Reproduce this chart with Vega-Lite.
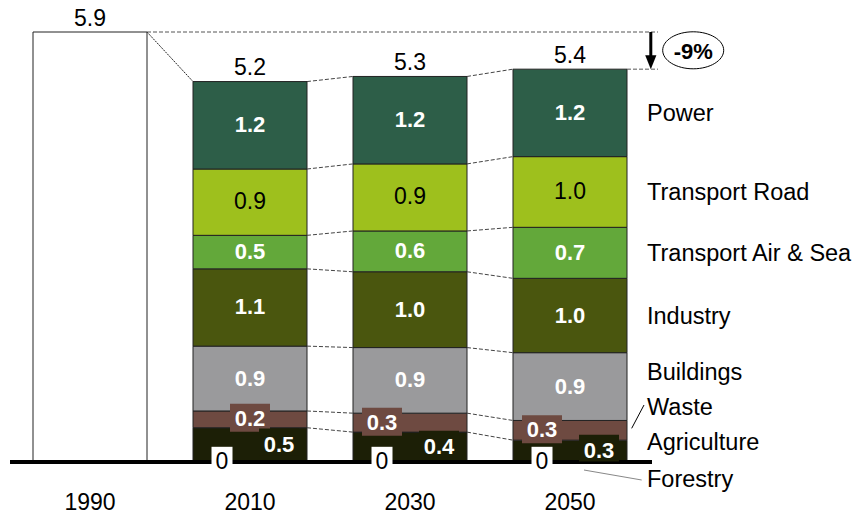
{
  "$schema": "https://vega.github.io/schema/vega-lite/v6.json",
  "width": 863,
  "height": 519,
  "padding": 0,
  "autosize": {"type": "fit", "contains": "padding"},
  "config": {"view": {"stroke": null}, "font": "Liberation Sans", "axis": {"disable": true}},
  "data": {
    "values": [
      {"year": 1990, "sector": "Total", "order": 0, "value": 5.9},
      {"year": 2010, "sector": "Forestry", "order": 1, "value": 0},
      {"year": 2010, "sector": "Agriculture", "order": 2, "value": 0.47},
      {"year": 2010, "sector": "Waste", "order": 3, "value": 0.23},
      {"year": 2010, "sector": "Buildings", "order": 4, "value": 0.89},
      {"year": 2010, "sector": "Industry", "order": 5, "value": 1.06},
      {"year": 2010, "sector": "Transport Air & Sea", "order": 6, "value": 0.46},
      {"year": 2010, "sector": "Transport Road", "order": 7, "value": 0.91},
      {"year": 2010, "sector": "Power", "order": 8, "value": 1.2},
      {"year": 2030, "sector": "Forestry", "order": 1, "value": 0},
      {"year": 2030, "sector": "Agriculture", "order": 2, "value": 0.41},
      {"year": 2030, "sector": "Waste", "order": 3, "value": 0.26},
      {"year": 2030, "sector": "Buildings", "order": 4, "value": 0.9},
      {"year": 2030, "sector": "Industry", "order": 5, "value": 1.04},
      {"year": 2030, "sector": "Transport Air & Sea", "order": 6, "value": 0.56},
      {"year": 2030, "sector": "Transport Road", "order": 7, "value": 0.92},
      {"year": 2030, "sector": "Power", "order": 8, "value": 1.2},
      {"year": 2050, "sector": "Forestry", "order": 1, "value": 0},
      {"year": 2050, "sector": "Agriculture", "order": 2, "value": 0.3},
      {"year": 2050, "sector": "Waste", "order": 3, "value": 0.27},
      {"year": 2050, "sector": "Buildings", "order": 4, "value": 0.93},
      {"year": 2050, "sector": "Industry", "order": 5, "value": 1.02},
      {"year": 2050, "sector": "Transport Air & Sea", "order": 6, "value": 0.7},
      {"year": 2050, "sector": "Transport Road", "order": 7, "value": 0.97},
      {"year": 2050, "sector": "Power", "order": 8, "value": 1.2}
    ]
  },
  "transform": [
    {"stack": "value", "groupby": ["year"], "sort": [{"field": "order", "order": "ascending"}], "as": ["v0", "v1"]},
    {"joinaggregate": [{"op": "sum", "field": "value", "as": "total"}], "groupby": ["year"]},
    {"calculate": "(datum.v0 + datum.v1) / 2", "as": "mid"}
  ],
  "layer": [
    {
      "transform": [{"filter": "datum.value > 0"}],
      "mark": {"type": "rect", "xOffset": -57, "x2Offset": 57, "stroke": "#222222", "strokeWidth": 1},
      "encoding": {
        "x": {"field": "year", "type": "quantitative", "scale": {"domain": [1978.75, 2086.625], "nice": false, "zero": false}},
        "x2": {"field": "year"},
        "y": {"field": "v0", "type": "quantitative", "scale": {"domain": [-0.7821, 6.3391], "nice": false, "zero": false}},
        "y2": {"field": "v1"},
        "color": {
          "field": "sector", "type": "nominal", "legend": null,
          "scale": {
            "domain": ["Total", "Forestry", "Agriculture", "Waste", "Buildings", "Industry", "Transport Air & Sea", "Transport Road", "Power"],
            "range": ["#ffffff", "#ffffff", "#1c1f06", "#6e4a41", "#9a9a9c", "#4a560e", "#63a83a", "#9ec01d", "#2d5e48"]
          }
        }
      }
    },
    {
      "transform": [
        {"window": [{"op": "lead", "field": "v1", "as": "nv1"}, {"op": "lead", "field": "year", "as": "nyear"}], "groupby": ["sector"], "sort": [{"field": "year", "order": "ascending"}]},
        {"filter": "datum.nyear != null && datum.sector != 'Forestry' && datum.sector != 'Total'"}
      ],
      "mark": {"type": "rule", "xOffset": 57, "x2Offset": -57, "stroke": "#444444", "strokeDash": [4, 2], "strokeWidth": 1},
      "encoding": {
        "x": {"field": "year", "type": "quantitative"},
        "x2": {"field": "nyear"},
        "y": {"field": "v1", "type": "quantitative"},
        "y2": {"field": "nv1"}
      }
    },
    {
      "transform": [
        {"filter": "datum.sector == 'Total' || datum.sector == 'Power'"},
        {"window": [{"op": "lead", "field": "total", "as": "ntotal"}, {"op": "lead", "field": "year", "as": "nyear"}], "sort": [{"field": "year", "order": "ascending"}]},
        {"filter": "datum.year == 1990"}
      ],
      "mark": {"type": "rule", "xOffset": 57, "x2Offset": -57, "stroke": "#222222", "strokeDash": [2, 1], "strokeWidth": 1},
      "encoding": {
        "x": {"field": "year", "type": "quantitative"},
        "x2": {"field": "nyear"},
        "y": {"field": "total", "type": "quantitative"},
        "y2": {"field": "ntotal"}
      }
    },
    {
      "transform": [{"filter": "datum.sector == 'Total' || (datum.sector == 'Power' && datum.year == 2050)"}],
      "mark": {"type": "rule", "xOffset": 57, "stroke": "#555555", "strokeDash": [4, 2], "strokeWidth": 1},
      "encoding": {
        "x": {"field": "year", "type": "quantitative"},
        "x2": {"datum": 2061},
        "y": {"field": "total", "type": "quantitative"}
      }
    },
    {
      "transform": [
        {"filter": "datum.sector == 'Total' || (datum.sector == 'Power' && datum.year == 2050)"},
        {"window": [{"op": "lead", "field": "total", "as": "ntotal"}], "sort": [{"field": "year", "order": "ascending"}]},
        {"filter": "datum.year == 1990"}
      ],
      "mark": {"type": "rule", "y2Offset": -8, "stroke": "#000000", "strokeWidth": 3},
      "encoding": {
        "x": {"datum": 2060.1, "type": "quantitative"},
        "y": {"field": "total", "type": "quantitative"},
        "y2": {"field": "ntotal"}
      }
    },
    {
      "transform": [{"filter": "datum.sector == 'Power' && datum.year == 2050"}],
      "mark": {"type": "point", "shape": "M-0.8,-1L0.8,-1L0,1Z", "size": 196, "filled": true, "color": "#000000", "opacity": 1, "yOffset": -7},
      "encoding": {
        "x": {"datum": 2060.1, "type": "quantitative"},
        "y": {"field": "total", "type": "quantitative"}
      }
    },
    {
      "transform": [{"filter": "datum.sector == 'Total'"}],
      "mark": {"type": "point", "shape": "M-1,0C-1,-0.335 -0.552,-0.607 0,-0.607C0.552,-0.607 1,-0.335 1,0C1,0.335 0.552,0.607 0,0.607C-0.552,0.607 -1,0.335 -1,0Z", "size": 3721, "filled": true, "fill": "#ffffff", "stroke": "#000000", "strokeWidth": 1, "opacity": 1},
      "encoding": {
        "x": {"datum": 2065.4, "type": "quantitative"},
        "y": {"datum": 5.649, "type": "quantitative"}
      }
    },
    {
      "transform": [{"filter": "datum.sector == 'Total'"}],
      "mark": {"type": "text", "text": "-9%", "fontSize": 22, "fontWeight": "bold", "color": "#000000", "align": "center", "baseline": "middle"},
      "encoding": {
        "x": {"datum": 2065.4, "type": "quantitative"},
        "y": {"datum": 5.63, "type": "quantitative"}
      }
    },
    {
      "transform": [{"filter": "datum.sector == 'Total' || datum.sector == 'Power'"}],
      "mark": {"type": "text", "fontSize": 23, "color": "#000000", "align": "center", "baseline": "middle", "dy": -13.5},
      "encoding": {
        "x": {"field": "year", "type": "quantitative"},
        "y": {"field": "total", "type": "quantitative"},
        "text": {"field": "total", "type": "quantitative", "format": ".1f"}
      }
    },
    {
      "transform": [{"filter": "datum.sector == 'Total' || datum.sector == 'Power'"}],
      "mark": {"type": "text", "fontSize": 23, "color": "#000000", "align": "center", "baseline": "middle"},
      "encoding": {
        "x": {"field": "year", "type": "quantitative"},
        "y": {"datum": -0.567, "type": "quantitative"},
        "text": {"field": "year", "type": "quantitative", "format": "d"}
      }
    },
    {
      "transform": [{"filter": "datum.sector == 'Power' || datum.sector == 'Transport Air & Sea' || datum.sector == 'Industry' || datum.sector == 'Buildings'"}],
      "mark": {"type": "text", "fontSize": 22, "fontWeight": "bold", "color": "#ffffff", "align": "center", "baseline": "middle"},
      "encoding": {
        "x": {"field": "year", "type": "quantitative"},
        "y": {"field": "mid", "type": "quantitative"},
        "text": {"field": "value", "type": "quantitative", "format": ".1f"}
      }
    },
    {
      "transform": [{"filter": "datum.sector == 'Transport Road'"}],
      "mark": {"type": "text", "fontSize": 23, "color": "#000000", "align": "center", "baseline": "middle"},
      "encoding": {
        "x": {"field": "year", "type": "quantitative"},
        "y": {"field": "mid", "type": "quantitative"},
        "text": {"field": "value", "type": "quantitative", "format": ".1f"}
      }
    },
    {
      "mark": {"type": "rule", "stroke": "#000000", "strokeWidth": 3},
      "encoding": {
        "x": {"datum": 1980.0, "type": "quantitative"},
        "x2": {"datum": 2060.25},
        "y": {"datum": 0, "type": "quantitative"}
      }
    },
    {
      "transform": [{"filter": "datum.sector == 'Waste' && datum.year == 2010"}],
      "mark": {"type": "point", "shape": "M-1,-0.7H1V0.7H-1Z", "size": 1600, "filled": true, "color": "#6e4a41", "opacity": 1, "yOffset": -1.5},
      "encoding": {
        "x": {"field": "year", "type": "quantitative"},
        "y": {"field": "mid", "type": "quantitative"}
      }
    },
    {
      "transform": [{"filter": "datum.sector == 'Waste' && datum.year == 2010"}],
      "mark": {"type": "text", "fontSize": 22, "fontWeight": "bold", "color": "#ffffff", "align": "center", "baseline": "middle"},
      "encoding": {
        "x": {"field": "year", "type": "quantitative"},
        "y": {"field": "mid", "type": "quantitative"},
        "text": {"field": "value", "type": "quantitative", "format": ".1f"}
      }
    },
    {
      "transform": [{"filter": "datum.sector == 'Waste' && datum.year > 2010"}],
      "mark": {"type": "point", "shape": "M-1,-0.7H1V0.7H-1Z", "size": 1600, "filled": true, "color": "#6e4a41", "opacity": 1, "xOffset": -28, "yOffset": -1},
      "encoding": {
        "x": {"field": "year", "type": "quantitative"},
        "y": {"field": "mid", "type": "quantitative"}
      }
    },
    {
      "transform": [{"filter": "datum.sector == 'Waste' && datum.year > 2010"}],
      "mark": {"type": "text", "fontSize": 22, "fontWeight": "bold", "color": "#ffffff", "align": "center", "baseline": "middle", "dx": -28},
      "encoding": {
        "x": {"field": "year", "type": "quantitative"},
        "y": {"field": "mid", "type": "quantitative"},
        "text": {"field": "value", "type": "quantitative", "format": ".1f"}
      }
    },
    {
      "transform": [{"filter": "datum.sector == 'Agriculture'"}],
      "mark": {"type": "point", "shape": "M-1,-0.67H1V0.67H-1Z", "size": 1600, "filled": true, "color": "#1c1f06", "opacity": 1, "xOffset": 29, "yOffset": -3},
      "encoding": {
        "x": {"field": "year", "type": "quantitative"},
        "y": {"field": "mid", "type": "quantitative"}
      }
    },
    {
      "transform": [{"filter": "datum.sector == 'Agriculture'"}],
      "mark": {"type": "text", "fontSize": 22, "fontWeight": "bold", "color": "#ffffff", "align": "center", "baseline": "middle", "dx": 29},
      "encoding": {
        "x": {"field": "year", "type": "quantitative"},
        "y": {"field": "mid", "type": "quantitative"},
        "text": {"field": "value", "type": "quantitative", "format": ".1f"}
      }
    },
    {
      "transform": [{"filter": "datum.sector == 'Forestry'"}],
      "mark": {"type": "point", "shape": "square", "size": 441, "filled": true, "color": "#ffffff", "opacity": 1, "xOffset": -28, "yOffset": -4.7},
      "encoding": {
        "x": {"field": "year", "type": "quantitative"},
        "y": {"field": "mid", "type": "quantitative"}
      }
    },
    {
      "transform": [{"filter": "datum.sector == 'Forestry'"}],
      "mark": {"type": "text", "fontSize": 23, "color": "#000000", "align": "center", "baseline": "middle", "dx": -28},
      "encoding": {
        "x": {"field": "year", "type": "quantitative"},
        "y": {"field": "mid", "type": "quantitative"},
        "text": {"field": "value", "type": "quantitative", "format": "d"}
      }
    },
    {
      "transform": [{"filter": "datum.year == 2050 && (datum.sector == 'Power' || datum.sector == 'Transport Road' || datum.sector == 'Transport Air & Sea' || datum.sector == 'Industry')"}],
      "mark": {"type": "text", "fontSize": 23.5, "color": "#000000", "align": "left", "baseline": "middle", "dy": 1},
      "encoding": {
        "x": {"datum": 2059.625, "type": "quantitative"},
        "y": {"field": "mid", "type": "quantitative"},
        "text": {"field": "sector", "type": "nominal"}
      }
    },
    {
      "transform": [{"filter": "datum.year == 2050 && datum.sector == 'Buildings'"}],
      "mark": {"type": "text", "fontSize": 23.5, "color": "#000000", "align": "left", "baseline": "middle", "dy": -13.6},
      "encoding": {
        "x": {"datum": 2059.625, "type": "quantitative"},
        "y": {"field": "mid", "type": "quantitative"},
        "text": {"field": "sector", "type": "nominal"}
      }
    },
    {
      "transform": [{"filter": "datum.year == 2050 && datum.sector == 'Waste'"}],
      "mark": {"type": "text", "fontSize": 23.5, "color": "#000000", "align": "left", "baseline": "middle", "dy": -22.3},
      "encoding": {
        "x": {"datum": 2059.625, "type": "quantitative"},
        "y": {"field": "mid", "type": "quantitative"},
        "text": {"field": "sector", "type": "nominal"}
      }
    },
    {
      "transform": [{"filter": "datum.year == 2050 && datum.sector == 'Agriculture'"}],
      "mark": {"type": "text", "fontSize": 23.5, "color": "#000000", "align": "left", "baseline": "middle", "dy": -8.1},
      "encoding": {
        "x": {"datum": 2059.625, "type": "quantitative"},
        "y": {"field": "mid", "type": "quantitative"},
        "text": {"field": "sector", "type": "nominal"}
      }
    },
    {
      "transform": [{"filter": "datum.year == 2050 && datum.sector == 'Forestry'"}],
      "mark": {"type": "text", "fontSize": 23.5, "color": "#000000", "align": "left", "baseline": "middle", "dy": 17.6},
      "encoding": {
        "x": {"datum": 2059.625, "type": "quantitative"},
        "y": {"field": "mid", "type": "quantitative"},
        "text": {"field": "sector", "type": "nominal"}
      }
    },
    {
      "transform": [{"filter": "datum.sector == 'Total'"}],
      "mark": {"type": "rule", "stroke": "#000000", "strokeWidth": 1},
      "encoding": {
        "x": {"datum": 2057.71, "type": "quantitative"},
        "x2": {"datum": 2059.25},
        "y": {"datum": 0.462, "type": "quantitative"},
        "y2": {"datum": 0.782}
      }
    },
    {
      "transform": [{"filter": "datum.sector == 'Total'"}],
      "mark": {"type": "rule", "stroke": "#888888", "strokeWidth": 1},
      "encoding": {
        "x": {"datum": 2051.75, "type": "quantitative"},
        "x2": {"datum": 2058.96},
        "y": {"datum": -0.11, "type": "quantitative"},
        "y2": {"datum": -0.247}
      }
    }
  ]
}
